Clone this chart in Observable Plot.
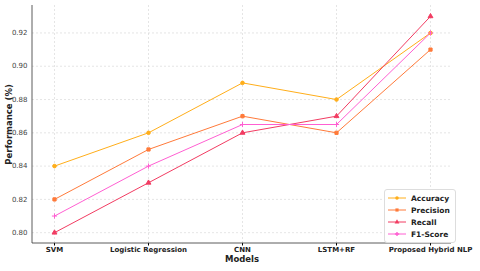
<!DOCTYPE html>
<html><head><meta charset="utf-8">
<script src="https://cdn.jsdelivr.net/npm/d3@7"></script>
<script src="https://cdn.jsdelivr.net/npm/@observablehq/plot@0.6"></script>
<style>
body{margin:0;background:#fff;font-family:"DejaVu Sans",sans-serif;}
#wrap{position:relative;width:480px;height:271px;}
#legend{position:absolute;left:384px;top:189px;width:64px;padding:2px 3px;border:1px solid #ddd;border-radius:3px;background:rgba(255,255,255,0.9);font:bold 7.5px "DejaVu Sans",sans-serif;color:#222;}
#legend div{display:flex;align-items:center;height:12px;}
#legend svg{margin-right:5px;}
</style></head><body>
<div id="wrap"><div id="chart"></div><div id="legend"></div></div>
<script>
const models = ["SVM","Logistic Regression","CNN","LSTM+RF","Proposed Hybrid NLP"];
const seriesNames = ["Accuracy","Precision","Recall","F1-Score"];
const accuracy  = [0.84, 0.86, 0.89, 0.88, 0.92];
const precision = [0.82, 0.85, 0.87, 0.86, 0.91];
const recall    = [0.80, 0.83, 0.86, 0.87, 0.93];
const f1score   = [0.81, 0.84, 0.865, 0.865, 0.92];
const yTicks = [0.80, 0.82, 0.84, 0.86, 0.88, 0.90, 0.92];
const colors = ["#FFAE1A","#FF7A3A","#F23C62","#FF5FD2"];
const symbols = ["circle","square","triangle","plus"];

const values = [accuracy, precision, recall, f1score];
const data = [];
seriesNames.forEach((s,i)=>models.forEach((m,j)=>data.push({series:s, model:m, value:values[i][j]})));

const chart = Plot.plot({
  width:480, height:271,
  marginLeft:32, marginRight:29, marginTop:5, marginBottom:28,
  style:{fontFamily:"DejaVu Sans, sans-serif", background:"#fff"},
  x:{type:"point", domain:models, padding:0.21, label:null},
  y:{domain:[0.7935,0.9365], ticks:yTicks, tickFormat:".2f", label:null},
  color:{domain:seriesNames, range:colors},
  symbol:{domain:seriesNames, range:symbols},
  marks:[
    Plot.gridY(yTicks,{stroke:"#d4d4d4", strokeOpacity:1, strokeDasharray:"2,2", strokeWidth:0.6}),
    Plot.gridX(models,{stroke:"#d4d4d4", strokeOpacity:1, strokeDasharray:"2,2", strokeWidth:0.6}),
    Plot.axisY(yTicks,{tickFormat:".2f", tickSize:0, tickPadding:5, fontSize:7, fill:"#444"}),
    Plot.axisX(models,{tickSize:2.5, tickPadding:1, fontSize:7, fontWeight:"bold", fill:"#222"}),
    Plot.line(data,{x:"model", y:"value", stroke:"series", z:"series", strokeWidth:1}),
    Plot.dot(data,{x:"model", y:"value", symbol:"series", fill:"series", stroke:"series", r:1.8, strokeWidth:1}),
    Plot.text(["Models"],{frameAnchor:"bottom", lineAnchor:"middle", dy:16, fontSize:8.5, fontWeight:"bold", fill:"#222"}),
    Plot.text(["Performance (%)"],{frameAnchor:"left", textAnchor:"middle", dx:-23, rotate:-90, fontSize:8.5, fontWeight:"bold", fill:"#222"})
  ]
});
const svg = d3.select(chart);
svg.append("line").attr("x1",32).attr("x2",32).attr("y1",5).attr("y2",243).attr("stroke","#333").attr("stroke-width",0.8);
svg.append("line").attr("x1",32).attr("x2",451).attr("y1",243).attr("y2",243).attr("stroke","#333").attr("stroke-width",0.8);
document.getElementById("chart").appendChild(chart);

const leg = d3.select("#legend");
seriesNames.forEach((s,i)=>{
  const row = leg.append("div");
  const sv = row.append("svg").attr("width",18).attr("height",8);
  sv.append("line").attr("x1",0).attr("x2",18).attr("y1",4).attr("y2",4).attr("stroke",colors[i]).attr("stroke-width",1);
  const sym = d3.symbol().type([d3.symbolCircle,d3.symbolSquare,d3.symbolTriangle,d3.symbolCross][i]).size(10);
  sv.append("path").attr("d",sym()).attr("transform","translate(9,4)").attr("fill",colors[i]);
  row.append("span").text(s);
});
</script></body></html>
